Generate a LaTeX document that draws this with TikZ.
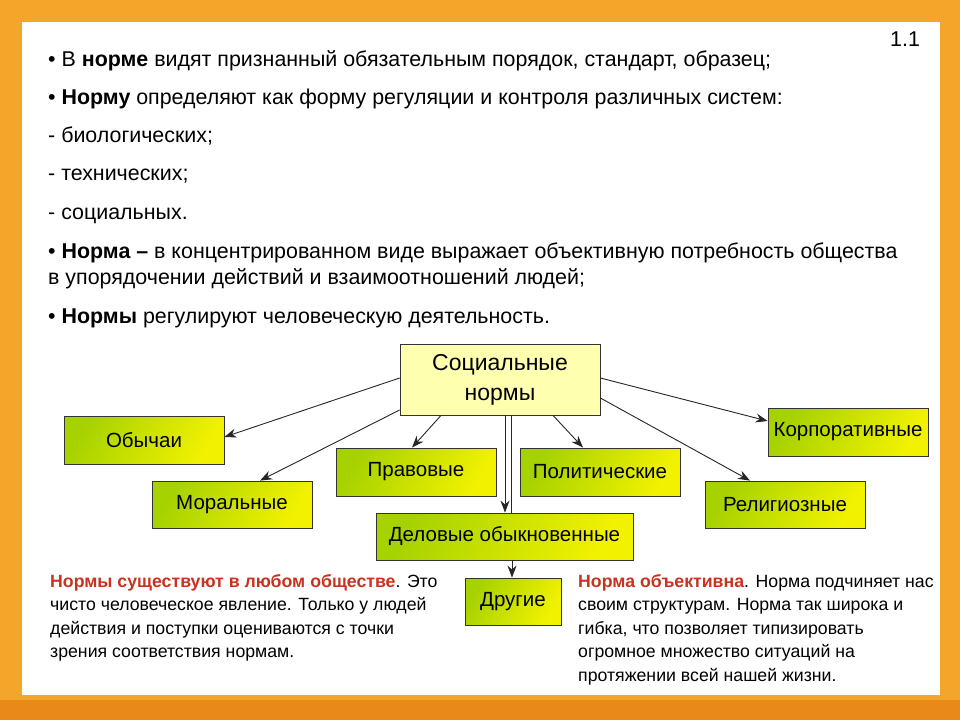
\documentclass[tikz,border=0pt]{standalone}
\usepackage{fontspec}
\setmainfont{Liberation Sans}
\usetikzlibrary{arrows.meta}
\definecolor{frameO}{HTML}{F4A62A}
\definecolor{frameD}{HTML}{E8891A}
\definecolor{gL}{HTML}{A6D200}
\definecolor{gR}{HTML}{F2F200}
\definecolor{cbox}{HTML}{FFFFB0}
\definecolor{redt}{HTML}{C8321E}
\tikzset{
  gbox/.style={draw=black!80, line width=0.8pt, shading=axis, left color=gL, right color=gR, shading angle=60, font=\fontsize{20.5}{24}\selectfont, inner sep=1pt},
  conn/.style={draw=black!85, line width=0.9pt, -{Stealth[length=12pt,width=9pt]}},
  txt/.style={anchor=base west, font=\fontsize{21.4}{24}\selectfont, inner sep=0pt},
  btxt/.style={anchor=north west, font=\fontsize{17.7}{23.5}\selectfont, inner sep=0pt, align=left}
}
\begin{document}
\begin{tikzpicture}[x=1pt,y=-1pt]
\useasboundingbox (0,0) rectangle (960,720);
\fill[frameO] (0,0) rectangle (960,720);
\fill[frameD] (0,700) rectangle (960,720);
\fill[white] (22,22) rectangle (940,695);
\node[txt] (n11) at (890,46) {1.1};
\node[txt] (l1) at (48,66) {• В \textbf{норме} видят признанный обязательным порядок, стандарт, образец;};
\node[txt] (l2) at (48,104) {• \textbf{Норму} определяют как форму регуляции и контроля различных систем:};
\node[txt] (l3) at (48,142) {- биологических;};
\node[txt] (l4) at (48,180) {- технических;};
\node[txt] (l5) at (48,219) {- социальных.};
\node[txt] (l6) at (48,258) {• \textbf{Норма –} в концентрированном виде выражает объективную потребность общества};
\node[txt] (l7) at (48,284) {в упорядочении действий и взаимоотношений людей;};
\node[txt] (l8) at (48,323) {• \textbf{Нормы} регулируют человеческую деятельность.};
\node[draw=black!80, line width=0.8pt, fill=cbox, minimum width=200pt, minimum height=71pt, align=center, font=\fontsize{23}{30}\selectfont] (sn) at (500,379.5) {Социальные\\нормы};
\node[gbox, minimum width=160pt, minimum height=48pt] (ob) at (144,440) {Обычаи};
\node[gbox, minimum width=160pt, minimum height=47pt] (mo) at (232,504.5) {Моральные};
\node[gbox, minimum width=160pt, minimum height=48pt] (pr) at (416,472) {Правовые};
\node[gbox, minimum width=160pt, minimum height=48pt] (po) at (600,472) {Политические};
\node[gbox, minimum width=160pt, minimum height=48pt, inner sep=0pt] (ko) at (848,432) {Корпоративные};
\node[gbox, minimum width=160pt, minimum height=47pt] (re) at (785,504.5) {Религиозные};
\node[gbox, minimum width=257pt, minimum height=47pt] (de) at (504.5,536.5) {Деловые обыкновенные};
\node[gbox, minimum width=96pt, minimum height=47pt] (dr) at (513,601.5) {Другие};
\draw[conn] (sn.west |- 0,378) -- (ob.east |- 0,437);
\draw[conn] (sn.west |- 0,410) -- (mo.north -| 260,0);
\draw[conn] (sn.south -| 441,0) -- (pr.north -| 412,0);
\draw[conn] (sn.south -| 553,0) -- (po.north -| 583,0);
\draw[conn] (sn.east |- 0,378) -- (ko.west |- 0,421);
\draw[conn] (sn.east |- 0,398) -- (re.north -| 750,0);
\draw[conn] (sn.south -| 505,0) -- (de.north -| 505,0);
\draw[draw=black!85, line width=0.9pt] (sn.south -| 511,0) -- (de.north -| 511,0);
\draw[conn] (de.south -| 512,0) -- (dr.north -| 512,0);
\node[btxt] (tl) at (50,574) {\textcolor{redt}{\textbf{Нормы существуют в любом обществе}}. Это\\чисто человеческое явление. Только у людей\\действия и поступки оцениваются с точки\\зрения соответствия нормам.};
\node[btxt] (tr) at (578,574) {\textcolor{redt}{\textbf{Норма объективна}}. Норма подчиняет нас\\своим структурам. Норма так широка и\\гибка, что позволяет типизировать\\огромное множество ситуаций на\\протяжении всей нашей жизни.};
\end{tikzpicture}
\end{document}
